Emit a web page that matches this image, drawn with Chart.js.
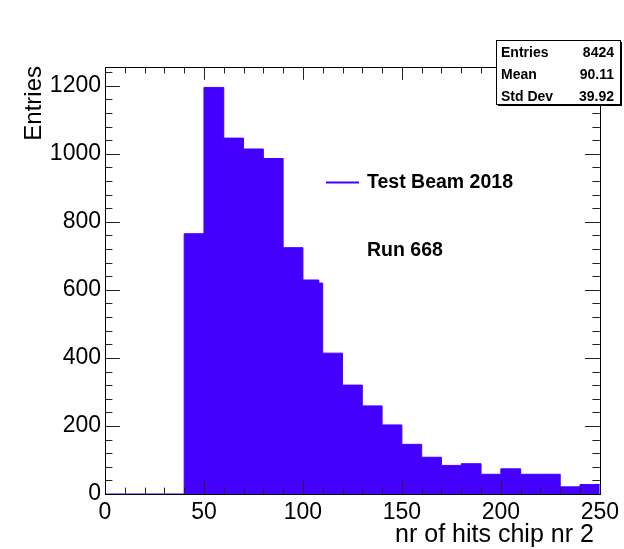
<!DOCTYPE html>
<html>
<head>
<meta charset="utf-8">
<script src="https://cdn.jsdelivr.net/npm/chart.js@4/dist/chart.umd.min.js"></script>
<style>
  html, body { margin: 0; padding: 0; background: #fff; }
  #wrap { width: 624px; height: 549px; position: relative; }
</style>
</head>
<body>
<div id="wrap"><canvas id="c" width="624" height="549"></canvas></div>
<script>
// Histogram of hit multiplicity: lower bin edges and bin contents
const binLowEdges = [0, 40, 50, 60, 70, 80, 90, 100, 108, 110, 120, 130, 140, 150, 160, 170, 180, 190, 200, 210, 220, 230, 240];
const binCounts   = [0, 765, 1195, 1046, 1014, 986, 724, 629, 620, 414, 320, 259, 203, 146, 108, 84, 89, 58, 74, 58, 58, 21, 28];
const xUpperEdge = 250;

// Axis tick labels
const xTickValues = [0, 50, 100, 150, 200, 250];
const yTickValues = [0, 200, 400, 600, 800, 1000, 1200];
const yAxisMax = 1255;

// Statistics box and annotations
const statNames  = ['Entries', 'Mean', 'Std Dev'];
const statValues = ['8424', '90.11', '39.92'];
const seriesLabel = 'Test Beam 2018';
const runLabel = 'Run 668';
const xAxisTitle = 'nr of hits chip nr 2';
const yAxisTitle = 'Entries';

const HIST_COLOR = '#4400ff';
const FONT = 'Liberation Sans, Arial, Helvetica, sans-serif';

// Step points: each bin's content holds from its low edge to the next edge
const points = binLowEdges.map((x, i) => ({ x: x, y: binCounts[i] }));
points.push({ x: xUpperEdge, y: binCounts[binCounts.length - 1] });

// Frame, inward major/minor ticks, stats box and text annotations
const decorations = {
  id: 'decorations',
  afterDatasetsDraw(chart) {
    const { ctx, chartArea: a, scales: { x, y } } = chart;
    ctx.save();
    ctx.strokeStyle = '#222';
    ctx.lineWidth = 1;
    const line = (x1, y1, x2, y2) => { ctx.beginPath(); ctx.moveTo(x1, y1); ctx.lineTo(x2, y2); ctx.stroke(); };

    const xMajor = xTickValues[1] - xTickValues[0];
    const xMinor = xMajor / 5;
    for (let v = x.min; v <= x.max + 1e-9; v += xMinor) {
      const px = Math.round(x.getPixelForValue(v)) + 0.5;
      const isMajor = Math.abs(v / xMajor - Math.round(v / xMajor)) < 1e-6;
      const len = isMajor ? 12.8 : 6.4;
      line(px, a.bottom, px, a.bottom - len);
      line(px, a.top, px, a.top + len);
    }
    const yMajor = yTickValues[1] - yTickValues[0];
    const yMinor = yMajor / 5;
    for (let v = y.min; v <= y.max + 1e-9; v += yMinor) {
      const py = Math.round(y.getPixelForValue(v)) + 0.5;
      const isMajor = Math.abs(v / yMajor - Math.round(v / yMajor)) < 1e-6;
      const len = isMajor ? 14.9 : 7.4;
      line(a.left, py, a.left + len, py);
      line(a.right, py, a.right - len, py);
    }
    ctx.strokeStyle = '#000';
    ctx.strokeRect(Math.round(a.left) + 0.5, Math.round(a.top) + 0.5,
                   Math.round(a.right - a.left), Math.round(a.bottom - a.top));
    ctx.restore();
  },
  afterDraw(chart) {
    const { ctx, chartArea: a } = chart;
    ctx.save();

    // axis titles, right/top aligned as in ROOT
    ctx.fillStyle = '#000';
    ctx.font = '25px ' + FONT;
    ctx.textAlign = 'right';
    ctx.textBaseline = 'alphabetic';
    ctx.fillText(xAxisTitle, a.right - 6, 542);
    ctx.save();
    ctx.translate(41, a.top - 1);
    ctx.rotate(-Math.PI / 2);
    ctx.font = '24px ' + FONT;
    ctx.textAlign = 'right';
    ctx.fillText(yAxisTitle, 0, 0);
    ctx.restore();

    // statistics box with drop shadow
    const bx = 496, by = 40, bw = 124, bh = 64;
    ctx.fillStyle = '#000';
    ctx.fillRect(bx + 2, by + 2, bw, bh);
    ctx.fillStyle = '#fff';
    ctx.fillRect(bx, by, bw, bh);
    ctx.strokeStyle = '#000';
    ctx.lineWidth = 1;
    ctx.strokeRect(bx + 0.5, by + 0.5, bw, bh);
    ctx.font = 'bold 14px ' + FONT;
    ctx.fillStyle = '#000';
    ctx.textBaseline = 'middle';
    const rowY = [53, 75, 97];
    statNames.forEach((n, i) => {
      ctx.textAlign = 'left';
      ctx.fillText(n, 501, rowY[i]);
      ctx.textAlign = 'right';
      ctx.fillText(statValues[i], 614, rowY[i]);
    });

    // legend entry
    const ds = chart.data.datasets[0];
    ctx.strokeStyle = ds.borderColor;
    ctx.lineWidth = 2;
    ctx.beginPath();
    ctx.moveTo(326, 182.5);
    ctx.lineTo(359, 182.5);
    ctx.stroke();
    ctx.font = 'bold 19.5px ' + FONT;
    ctx.textAlign = 'left';
    ctx.fillStyle = '#000';
    ctx.fillText(ds.label, 367, 183);
    ctx.fillText(runLabel, 367, 251);
    ctx.restore();
  }
};

new Chart(document.getElementById('c'), {
  type: 'line',
  data: {
    datasets: [{
      label: seriesLabel,
      data: points,
      stepped: true,
      fill: 'origin',
      backgroundColor: HIST_COLOR,
      borderColor: HIST_COLOR,
      borderWidth: 1,
      pointRadius: 0,
      tension: 0
    }]
  },
  options: {
    responsive: false,
    animation: false,
    events: [],
    layout: { padding: { left: 0, top: 67, right: 23, bottom: 0 } },
    plugins: { legend: { display: false }, tooltip: { enabled: false } },
    scales: {
      x: {
        type: 'linear',
        min: 0,
        max: xUpperEdge,
        afterBuildTicks: s => { s.ticks = xTickValues.map(v => ({ value: v })); },
        afterFit: s => { s.height = 55; },
        grid: { display: false, drawTicks: false, tickLength: 0 },
        border: { display: false },
        ticks: {
          autoSkip: false, maxRotation: 0, padding: 5,
          color: '#000', font: { family: FONT, size: 23 },
          callback: v => String(v)
        }
      },
      y: {
        type: 'linear',
        min: 0,
        max: yAxisMax,
        afterBuildTicks: s => { s.ticks = yTickValues.map(v => ({ value: v })); },
        afterFit: s => { s.width = 105; },
        grid: { display: false, drawTicks: false, tickLength: 0 },
        border: { display: false },
        ticks: {
          autoSkip: false, padding: 4,
          color: '#000', font: { family: FONT, size: 23 },
          callback: v => String(v)
        }
      }
    }
  },
  plugins: [decorations]
});
</script>
</body>
</html>
